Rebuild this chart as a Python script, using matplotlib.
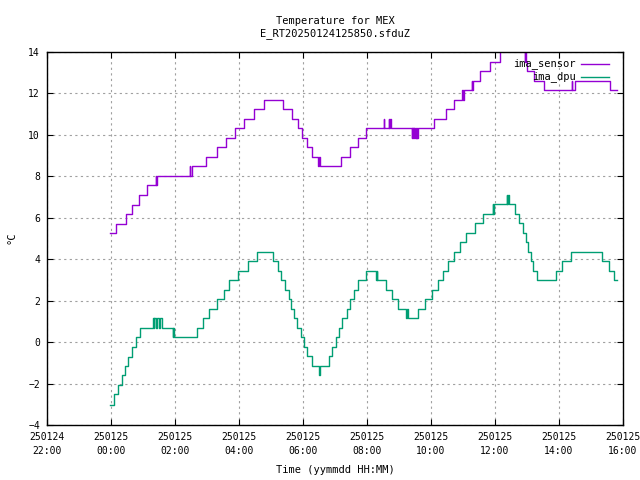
import matplotlib
matplotlib.use("Agg")
import matplotlib.pyplot as plt
import matplotlib.dates as mdates
import pandas as pd

COLOR_SENSOR = "#9400D3"
COLOR_DPU = "#009E73"
FONT = "DejaVu Sans Mono"

TITLE_1 = "Temperature for MEX"
TITLE_2 = "E_RT20250124125850.sfduZ"

# ── ima_sensor: instant of each change (yymmdd HH:MM) and new value ──
sensor_t = [
    "250124 23:59", "250125 00:10", "250125 00:28", "250125 00:39", "250125 00:52",
    "250125 01:07", "250125 01:24", "250125 01:25", "250125 01:26", "250125 02:28",
    "250125 02:29", "250125 02:32", "250125 02:59", "250125 03:18", "250125 03:35",
    "250125 03:52", "250125 04:09", "250125 04:28", "250125 04:47", "250125 05:23",
    "250125 05:39", "250125 05:50", "250125 05:59", "250125 06:08", "250125 06:17",
    "250125 06:29", "250125 06:30", "250125 06:31", "250125 07:12", "250125 07:29",
    "250125 07:44", "250125 07:59", "250125 08:31", "250125 08:32", "250125 08:41",
    "250125 08:42", "250125 08:44", "250125 08:45", "250125 09:24", "250125 09:25",
    "250125 09:26", "250125 09:27", "250125 09:28", "250125 09:29", "250125 09:30",
    "250125 09:31", "250125 09:32", "250125 09:33", "250125 09:34", "250125 09:35",
    "250125 10:06", "250125 10:28", "250125 10:44", "250125 10:59", "250125 11:00",
    "250125 11:01", "250125 11:16", "250125 11:17", "250125 11:18", "250125 11:32",
    "250125 11:51", "250125 12:10", "250125 12:56", "250125 12:57", "250125 12:58",
    "250125 13:00", "250125 13:14", "250125 13:32", "250125 14:24", "250125 14:25",
    "250125 14:30", "250125 15:36", "250125 15:48",
]
sensor_v = [
    5.26, 5.72, 6.18, 6.64, 7.10,
    7.56, 8.02, 7.56, 8.02, 8.48,
    8.02, 8.48, 8.94, 9.40, 9.86,
    10.32, 10.78, 11.24, 11.70, 11.24,
    10.78, 10.32, 9.86, 9.40, 8.94,
    8.48, 8.94, 8.48, 8.94, 9.40,
    9.86, 10.32, 10.78, 10.32, 10.78,
    10.32, 10.78, 10.32, 9.86, 10.32,
    9.86, 10.32, 9.86, 10.32, 9.86,
    10.32, 9.86, 10.32, 9.86, 10.32,
    10.78, 11.24, 11.70, 12.16, 11.70,
    12.16, 12.62, 12.16, 12.62, 13.08,
    13.54, 14.46, 13.54, 14.46, 13.54,
    13.08, 12.62, 12.16, 12.62, 12.16,
    12.62, 12.16, 12.16,
]

# ── ima_dpu ──
dpu_t = [
    "250124 23:59", "250125 00:06", "250125 00:14", "250125 00:20", "250125 00:26",
    "250125 00:32", "250125 00:39", "250125 00:46", "250125 00:55", "250125 01:19",
    "250125 01:20", "250125 01:21", "250125 01:24", "250125 01:27", "250125 01:30",
    "250125 01:32", "250125 01:35", "250125 01:56", "250125 01:57", "250125 01:58",
    "250125 02:41", "250125 02:52", "250125 03:04", "250125 03:18", "250125 03:31",
    "250125 03:42", "250125 03:58", "250125 04:16", "250125 04:33", "250125 05:04",
    "250125 05:14", "250125 05:19", "250125 05:27", "250125 05:33", "250125 05:38",
    "250125 05:43", "250125 05:49", "250125 05:56", "250125 06:01", "250125 06:08",
    "250125 06:16", "250125 06:30", "250125 06:31", "250125 06:48", "250125 06:55",
    "250125 07:01", "250125 07:08", "250125 07:14", "250125 07:22", "250125 07:29",
    "250125 07:36", "250125 07:44", "250125 07:58", "250125 08:17", "250125 08:18",
    "250125 08:19", "250125 08:35", "250125 08:46", "250125 08:59", "250125 09:14",
    "250125 09:15", "250125 09:16", "250125 09:36", "250125 09:49", "250125 10:01",
    "250125 10:13", "250125 10:23", "250125 10:31", "250125 10:43", "250125 10:55",
    "250125 11:06", "250125 11:22", "250125 11:37", "250125 11:56", "250125 11:57",
    "250125 11:58", "250125 12:22", "250125 12:23", "250125 12:24", "250125 12:26",
    "250125 12:38", "250125 12:45", "250125 12:52", "250125 12:58", "250125 13:02",
    "250125 13:07", "250125 13:12", "250125 13:19", "250125 13:54", "250125 14:06",
    "250125 14:23", "250125 15:20", "250125 15:33", "250125 15:43", "250125 15:48",
]
dpu_v = [
    -3.02, -2.52, -2.07, -1.60, -1.15,
    -0.70, -0.24, 0.23, 0.67, 1.15,
    0.67, 1.15, 0.67, 1.15, 0.67,
    1.15, 0.67, 0.23, 0.67, 0.23,
    0.67, 1.15, 1.60, 2.06, 2.51,
    2.98, 3.42, 3.90, 4.35, 3.90,
    3.42, 2.98, 2.51, 2.06, 1.60,
    1.15, 0.67, 0.23, -0.24, -0.69,
    -1.16, -1.60, -1.16, -0.69, -0.24,
    0.23, 0.68, 1.15, 1.60, 2.06,
    2.51, 2.98, 3.42, 2.98, 3.42,
    2.98, 2.51, 2.06, 1.60, 1.15,
    1.60, 1.15, 1.60, 2.06, 2.51,
    2.98, 3.42, 3.90, 4.35, 4.82,
    5.26, 5.73, 6.18, 6.65, 6.18,
    6.65, 7.10, 6.65, 7.10, 6.65,
    6.18, 5.73, 5.26, 4.82, 4.35,
    3.90, 3.42, 2.98, 3.42, 3.90,
    4.35, 3.90, 3.42, 2.98, 2.98,
]

X_START = "250124 22:00"
X_END = "250125 16:00"
Y_TICKS = [-4, -2, 0, 2, 4, 6, 8, 10, 12, 14]


def to_time(lst):
    return pd.to_datetime(lst, format="%y%m%d %H:%M")


fig = plt.figure(figsize=(6.4, 4.8), dpi=100)
ax = fig.add_axes([47 / 640, 1 - 425 / 480, 576 / 640, 373 / 480])

ax.plot(to_time(sensor_t), sensor_v, drawstyle="steps-post",
        color=COLOR_SENSOR, lw=1.0, zorder=2)
ax.plot(to_time(dpu_t), dpu_v, drawstyle="steps-post",
        color=COLOR_DPU, lw=1.0, zorder=2)

ax.set_xlim(to_time([X_START])[0], to_time([X_END])[0])
ax.set_ylim(Y_TICKS[0], Y_TICKS[-1])
ax.set_yticks(Y_TICKS)
ax.xaxis.set_major_locator(mdates.HourLocator(byhour=range(0, 24, 2)))
ax.xaxis.set_major_formatter(mdates.DateFormatter("%y%m%d\n%H:%M"))

ax.grid(True, color="#a0a0a0", linestyle=(0, (2, 3)), linewidth=0.8)
ax.tick_params(direction="in", length=4, width=0.8, top=True, right=True,
               labelsize=7, pad=5)
for lab in ax.get_xticklabels() + ax.get_yticklabels():
    lab.set_family(FONT)
for lab in ax.get_xticklabels():
    lab.set_linespacing(1.5)
for sp in ax.spines.values():
    sp.set_linewidth(1.0)
    sp.set_zorder(4)

# legend, gnuplot style (text right-aligned, sample to the right)
for i, (name, col) in enumerate([("ima_sensor", COLOR_SENSOR), ("ima_dpu", COLOR_DPU)]):
    yy = 0.968 - i * 0.035
    ax.text(0.918, yy, name, transform=ax.transAxes, ha="right", va="center",
            fontsize=7.5, family=FONT, zorder=5)
    ax.plot([0.927, 0.976], [yy, yy], transform=ax.transAxes, color=col,
            lw=1.0, zorder=5)

fig.text(335 / 640, 1 - 21 / 480, TITLE_1, ha="center", va="center",
         fontsize=7.5, family=FONT)
fig.text(335 / 640, 1 - 34 / 480, TITLE_2, ha="center", va="center",
         fontsize=7.5, family=FONT)
fig.text(335 / 640, 1 - 470 / 480, "Time (yymmdd HH:MM)", ha="center",
         va="center", fontsize=7.5, family=FONT)
fig.text(12 / 640, 1 - 238 / 480, "°C", ha="center", va="center",
         rotation=90, fontsize=7.5, family=FONT)

fig.savefig("out.png", dpi=100)
